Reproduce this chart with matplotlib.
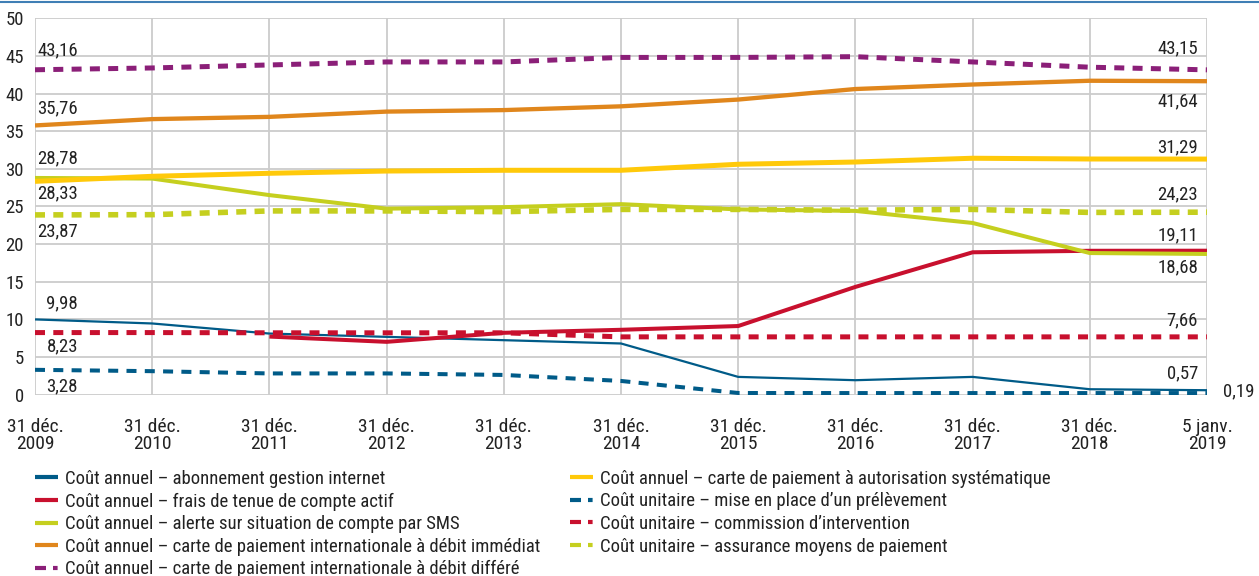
import matplotlib
matplotlib.use("Agg")
import matplotlib.pyplot as plt
import numpy as np
from matplotlib.lines import Line2D

plt.rcParams['font.family'] = ['Roboto Condensed', 'DejaVu Sans']

categories = ["31 déc.\n2009", "31 déc.\n2010", "31 déc.\n2011", "31 déc.\n2012", "31 déc.\n2013",
              "31 déc.\n2014", "31 déc.\n2015", "31 déc.\n2016", "31 déc.\n2017", "31 déc.\n2018",
              "5 janv.\n2019"]

internet = [9.98, 9.44, 8.1, 7.66, 7.22, 6.78, 2.34, 1.9, 2.34, 0.7, 0.57]
tenue = [np.nan, np.nan, 7.7, 7.0, 8.2, 8.6, 9.1, 14.3, 18.9, 19.1, 19.11]
sms = [28.78, 28.7, 26.5, 24.7, 24.9, 25.3, 24.6, 24.4, 22.8, 18.8, 18.68]
immediat = [35.76, 36.6, 36.9, 37.6, 37.8, 38.3, 39.2, 40.6, 41.2, 41.7, 41.64]
differe = [43.16, 43.4, 43.8, 44.2, 44.2, 44.8, 44.8, 44.9, 44.2, 43.5, 43.15]
autorisation = [28.33, 29.0, 29.4, 29.7, 29.8, 29.8, 30.6, 30.9, 31.4, 31.3, 31.29]
prelevement = [3.28, 3.1, 2.8, 2.8, 2.6, 1.8, 0.2, 0.19, 0.19, 0.19, 0.19]
intervention = [8.23, 8.23, 8.2, 8.2, 8.2, 7.66, 7.66, 7.66, 7.66, 7.66, 7.66]
assurance = [23.87, 23.9, 24.4, 24.4, 24.3, 24.6, 24.6, 24.5, 24.6, 24.2, 24.23]

names = [
    "Coût annuel – abonnement gestion internet",
    "Coût annuel – frais de tenue de compte actif",
    "Coût annuel – alerte sur situation de compte par SMS",
    "Coût annuel – carte de paiement internationale à débit immédiat",
    "Coût annuel – carte de paiement internationale à débit différé",
    "Coût annuel – carte de paiement à autorisation systématique",
    "Coût unitaire – mise en place d’un prélèvement",
    "Coût unitaire – commission d’intervention",
    "Coût unitaire – assurance moyens de paiement",
]

BLUE = "#005b88"
RED = "#c8102e"
LIME = "#c5cf1f"
ORANGE = "#e0861c"
PURPLE = "#8b1f78"
YELLOW = "#ffc90a"

# (values, colour, dashed?, linewidth in points)
series = [
    (internet, BLUE, False, 1.6),
    (tenue, RED, False, 2.9),
    (sms, LIME, False, 2.9),
    (immediat, ORANGE, False, 3.1),
    (differe, PURPLE, True, 3.6),
    (autorisation, YELLOW, False, 3.6),
    (prelevement, BLUE, True, 2.9),
    (intervention, RED, True, 3.6),
    (assurance, LIME, True, 4.0),
]

fig = plt.figure(figsize=(12.59, 5.76), dpi=100)
ax = fig.add_axes([35/1259, 1-394.5/576, (1207-35)/1259, (394.5-18.3)/576])

PX = 72/100  # points per pixel
x = np.arange(len(categories))
handles = []
for vals, col, dashed, lw in series:
    if dashed:
        lwpx = lw / PX
        ax.plot(x, vals, color=col, lw=lw, linestyle=(0, (10/lwpx, 8.3/lwpx)), dash_capstyle='butt')
        hl = 3.0 / PX
        h = Line2D([], [], color=col, lw=3.0,
                   linestyle=(0, (11/hl, 7/hl, 4.6/hl, 20)), dash_capstyle='butt')
    else:
        ax.plot(x, vals, color=col, lw=lw, solid_capstyle='butt')
        h = Line2D([], [], color=col, lw=3.0, solid_capstyle='butt')
    handles.append(h)

FS = 13.5
TC = "#222222"
ax.set_xlim(0, len(categories) - 1)
ax.set_ylim(0, 50)
ax.set_yticks(np.arange(0, 51, 5))
ax.set_xticks(x)
ax.set_xticklabels(categories, fontsize=14, color=TC, linespacing=0.9)
for t in ax.get_xticklabels():
    t.set_horizontalalignment('center')
    t.set_multialignment('center')
ax.tick_params(axis='x', length=0, pad=17)
ax.tick_params(axis='y', length=0, pad=8, labelsize=FS, labelcolor=TC)
ax.grid(True, color="#cccccc", lw=1.3)
ax.set_axisbelow(True)
for s in ax.spines.values():
    s.set_visible(False)

def lab(xi, val, text, dy, ha, dx):
    ax.annotate(text, xy=(xi, val), xytext=(dx, dy), textcoords='offset pixels',
                ha=ha, va='center', fontsize=FS, color=TC, annotation_clip=False)

# left labels
lab(0, 43.16, "43,16", 19, 'right', 43)
lab(0, 35.76, "35,76", 17, 'right', 43)
lab(0, 28.78, "28,78", 20, 'right', 43)
lab(0, 28.33, "28,33", -12, 'right', 43)
lab(0, 23.87, "23,87", -16, 'right', 43)
lab(0, 9.98, "9,98", 16, 'right', 43)
lab(0, 8.23, "8,23", -14, 'right', 43)
lab(0, 3.28, "3,28", -17, 'right', 43)
# right labels
n = len(categories) - 1
lab(n, 43.15, "43,15", 21, 'right', -9)
lab(n, 41.64, "41,64", -20, 'right', -9)
lab(n, 31.29, "31,29", 12, 'right', -9)
lab(n, 24.23, "24,23", 18, 'right', -9)
lab(n, 19.11, "19,11", 15, 'right', -9)
lab(n, 18.68, "18,68", -13, 'right', -9)
lab(n, 7.66, "7,66", 17, 'right', -9)
lab(n, 0.57, "0,57", 17, 'right', -9)
lab(n, 0.19, "0,19", 2, 'left', 16)

# top frame line
fig.add_artist(Line2D([0, 1], [1 - 2/576, 1 - 2/576], color="#3f7fb5", lw=1.5, transform=fig.transFigure))

kw = dict(loc='upper left', frameon=False, fontsize=FS, handlelength=1.2, handletextpad=0.38,
          labelspacing=0.24, borderaxespad=0, borderpad=0)
leg1 = fig.legend([handles[i] for i in range(5)], names[:5],
                  bbox_to_anchor=(35/1259, 1 - 470/576), **kw)
leg2 = fig.legend([handles[i] for i in range(5, 9)], names[5:],
                  bbox_to_anchor=(570/1259, 1 - 470/576), **kw)
for lg in (leg1, leg2):
    for t in lg.get_texts():
        t.set_color(TC)

fig.savefig("out.png", dpi=100)
